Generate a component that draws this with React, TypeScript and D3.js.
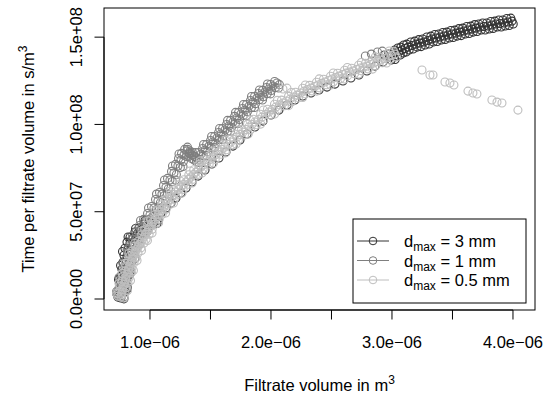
// App.tsx
import React, { useEffect, useRef } from "react";
import * as d3 from "d3";

// volume in 1e-6 m^3, time per volume in 1e8 s/m^6
const dmax3mm: [number, number][] = [
  // band centre
  [0.760, 0.006], [0.769, 0.046], [0.777, 0.086], [0.785, 0.126], [0.793, 0.166],
  [0.802, 0.206], [0.810, 0.246], [0.818, 0.286], [0.835, 0.321], [0.860, 0.349],
  [0.893, 0.372], [0.926, 0.395], [0.967, 0.418], [1.008, 0.441], [1.050, 0.464],
  [1.091, 0.493], [1.132, 0.521], [1.174, 0.550], [1.215, 0.578], [1.256, 0.607],
  [1.298, 0.636], [1.347, 0.670], [1.397, 0.704], [1.455, 0.739], [1.512, 0.773],
  [1.570, 0.808], [1.628, 0.842], [1.686, 0.876], [1.744, 0.911], [1.802, 0.945],
  [1.868, 0.985], [1.934, 1.019], [2.000, 1.054], [2.066, 1.082], [2.132, 1.111],
  [2.198, 1.140], [2.264, 1.163], [2.331, 1.180], [2.397, 1.197], [2.463, 1.214],
  [2.529, 1.231], [2.595, 1.249], [2.661, 1.266], [2.727, 1.283], [2.793, 1.306],
  [2.860, 1.334], [2.926, 1.357], [2.983, 1.386], [3.033, 1.409], [3.083, 1.426],
  [3.132, 1.443], [3.198, 1.460], [3.264, 1.472], [3.331, 1.489], [3.397, 1.501],
  [3.463, 1.512], [3.529, 1.523], [3.595, 1.535], [3.661, 1.546], [3.727, 1.558],
  [3.793, 1.564], [3.860, 1.575], [3.926, 1.581], [3.992, 1.592],
  [3.058, 1.418], [3.107, 1.435], [3.165, 1.452], [3.231, 1.466], [3.298, 1.481],
  [3.364, 1.495], [3.430, 1.507], [3.496, 1.518], [3.562, 1.529], [3.628, 1.541],
  [3.694, 1.552], [3.760, 1.561], [3.826, 1.570], [3.893, 1.578], [3.959, 1.587],
  // upper edge of band
  [0.735, 0.011], [0.744, 0.051], [0.752, 0.091], [0.760, 0.131], [0.768, 0.171],
  [0.777, 0.211], [0.785, 0.251], [0.793, 0.291], [0.810, 0.326], [0.835, 0.354],
  [0.876, 0.384], [0.909, 0.407], [0.950, 0.430], [0.991, 0.453], [1.033, 0.476],
  [2.973, 1.403], [3.023, 1.426], [3.073, 1.443],
  [3.122, 1.460], [3.188, 1.477], [3.254, 1.489], [3.321, 1.506], [3.387, 1.518],
  [3.453, 1.529], [3.519, 1.540], [3.585, 1.552], [3.651, 1.563], [3.717, 1.575],
  [3.783, 1.581], [3.850, 1.592], [3.916, 1.598], [3.982, 1.609],
  [3.048, 1.438], [3.097, 1.455], [3.155, 1.472], [3.221, 1.486], [3.288, 1.501],
  [3.354, 1.515], [3.420, 1.527], [3.486, 1.538], [3.552, 1.549], [3.618, 1.561],
  [3.684, 1.572], [3.750, 1.581], [3.816, 1.590], [3.883, 1.598], [3.949, 1.607],
  // lower edge of band
  [0.785, 0.001], [0.794, 0.041], [0.802, 0.081], [0.810, 0.121], [0.818, 0.161],
  [0.827, 0.201], [0.835, 0.241], [0.843, 0.281], [0.860, 0.316], [0.885, 0.344],
  [0.910, 0.360], [0.943, 0.383], [0.984, 0.406], [1.025, 0.429], [1.067, 0.452],
  [2.993, 1.369], [3.043, 1.392], [3.093, 1.409],
  [3.142, 1.426], [3.208, 1.443], [3.274, 1.455], [3.341, 1.472], [3.407, 1.484],
  [3.473, 1.495], [3.539, 1.506], [3.605, 1.518], [3.671, 1.529], [3.737, 1.541],
  [3.803, 1.547], [3.870, 1.558], [3.936, 1.564], [4.002, 1.575],
  [3.068, 1.398], [3.117, 1.415], [3.175, 1.432], [3.241, 1.446], [3.308, 1.461],
  [3.374, 1.475], [3.440, 1.487], [3.506, 1.498], [3.572, 1.509], [3.638, 1.521],
  [3.704, 1.532], [3.770, 1.541], [3.836, 1.550], [3.903, 1.558], [3.969, 1.567],
  // scatter either side of the band
  [0.724, 0.032], [0.814, 0.060], [0.740, 0.112], [0.830, 0.140], [0.757, 0.192],
  [0.847, 0.220], [0.773, 0.272], [0.868, 0.298], [0.819, 0.355], [0.906, 0.341],
  [0.881, 0.404], [0.976, 0.387], [0.959, 0.450], [1.058, 0.433],
  [2.937, 1.398], [3.026, 1.372],
];

const dmax1mm: [number, number][] = [
  // band centre
  [0.760, 0.017], [0.769, 0.057], [0.777, 0.097], [0.793, 0.137], [0.810, 0.178],
  [0.826, 0.218], [0.843, 0.258], [0.860, 0.298], [0.884, 0.338], [0.909, 0.378],
  [0.934, 0.412], [0.967, 0.447], [1.000, 0.481], [1.033, 0.521], [1.066, 0.561],
  [1.099, 0.601], [1.132, 0.641], [1.165, 0.682], [1.198, 0.722], [1.231, 0.762],
  [1.256, 0.796], [1.281, 0.825], [1.306, 0.848], [1.331, 0.848], [1.347, 0.825],
  [1.364, 0.796], [1.388, 0.808], [1.421, 0.830], [1.455, 0.853], [1.488, 0.876],
  [1.521, 0.899], [1.554, 0.922], [1.587, 0.945], [1.620, 0.968], [1.653, 0.991],
  [1.686, 1.014], [1.719, 1.037], [1.752, 1.060], [1.785, 1.082], [1.818, 1.105],
  [1.851, 1.128], [1.884, 1.151], [1.917, 1.168], [1.950, 1.186], [1.983, 1.203],
  [2.017, 1.220], [2.050, 1.237],
  // upper edge
  [0.735, 0.022], [0.744, 0.062], [0.752, 0.102], [0.768, 0.142], [0.785, 0.183],
  [0.801, 0.223], [0.818, 0.263], [0.835, 0.303], [0.859, 0.343], [0.884, 0.383],
  [0.914, 0.421], [0.947, 0.456], [0.980, 0.490], [1.013, 0.530], [1.046, 0.570],
  [1.079, 0.610], [1.112, 0.650], [1.145, 0.691], [1.178, 0.731], [1.211, 0.771],
  [1.236, 0.805], [1.261, 0.834], [1.286, 0.857], [1.311, 0.857], [1.327, 0.834],
  [1.344, 0.805], [1.368, 0.817], [1.401, 0.839], [1.435, 0.862], [1.468, 0.885],
  [1.501, 0.908], [1.534, 0.931], [1.567, 0.954], [1.600, 0.977], [1.633, 1.000],
  [1.666, 1.023], [1.699, 1.046], [1.732, 1.069], [1.765, 1.091], [1.798, 1.114],
  [1.831, 1.137], [1.864, 1.160], [1.897, 1.177], [1.930, 1.195], [1.963, 1.212],
  [1.997, 1.229], [2.030, 1.246],
  // lower edge
  [0.785, 0.012], [0.794, 0.052], [0.802, 0.092], [0.818, 0.132], [0.835, 0.173],
  [0.851, 0.213], [0.868, 0.253], [0.885, 0.293], [0.909, 0.333], [0.934, 0.373],
  [0.954, 0.403], [0.987, 0.438], [1.020, 0.472], [1.053, 0.512], [1.086, 0.552],
  [1.119, 0.592], [1.152, 0.632], [1.185, 0.673], [1.218, 0.713], [1.251, 0.753],
  [1.276, 0.787], [1.301, 0.816], [1.326, 0.839], [1.351, 0.839], [1.367, 0.816],
  [1.384, 0.787], [1.408, 0.799], [1.441, 0.821], [1.475, 0.844], [1.508, 0.867],
  [1.541, 0.890], [1.574, 0.913], [1.607, 0.936], [1.640, 0.959], [1.673, 0.982],
  [1.706, 1.005], [1.739, 1.028], [1.772, 1.051], [1.805, 1.073], [1.838, 1.096],
  [1.871, 1.119], [1.904, 1.142], [1.937, 1.159], [1.970, 1.177], [2.003, 1.194],
  [2.037, 1.211], [2.070, 1.228],
  // scatter either side of the band
  [0.724, 0.043], [0.814, 0.071], [0.744, 0.123], [0.843, 0.152], [0.777, 0.204],
  [0.876, 0.232], [0.811, 0.284], [0.913, 0.312], [0.856, 0.364], [0.951, 0.375],
  [0.922, 0.450], [1.013, 0.444], [0.988, 0.521], [1.079, 0.521], [1.054, 0.601],
  [1.145, 0.601], [1.120, 0.682], [1.211, 0.682], [1.186, 0.762], [1.273, 0.759],
  [1.240, 0.831], [1.323, 0.817], [1.310, 0.870], [1.368, 0.817], [1.327, 0.831],
  [1.405, 0.782], [1.376, 0.839], [1.467, 0.822], [1.443, 0.885], [1.534, 0.868],
  [1.509, 0.931], [1.600, 0.914], [1.575, 0.977], [1.666, 0.960], [1.641, 1.023],
  [1.732, 1.006], [1.707, 1.069], [1.798, 1.051], [1.773, 1.114], [1.864, 1.097],
  [1.839, 1.160], [1.930, 1.140], [1.905, 1.197], [1.996, 1.175], [1.971, 1.232],
  [2.063, 1.209],
  // few points above the 0.5 mm band near 2.8e-06
  [2.780, 1.392], [2.830, 1.403], [2.880, 1.415], [2.920, 1.420],
];

const dmax05mm: [number, number][] = [
  // band centre
  [0.760, 0.011], [0.769, 0.040], [0.777, 0.069], [0.793, 0.097], [0.802, 0.126],
  [0.818, 0.155], [0.826, 0.183], [0.843, 0.212], [0.860, 0.241], [0.876, 0.269],
  [0.901, 0.298], [0.926, 0.326], [0.950, 0.355], [0.975, 0.384], [1.000, 0.412],
  [1.025, 0.441], [1.058, 0.470], [1.083, 0.498], [1.116, 0.527], [1.149, 0.556],
  [1.182, 0.584], [1.215, 0.613], [1.256, 0.641], [1.298, 0.670], [1.339, 0.699],
  [1.380, 0.727], [1.421, 0.756], [1.471, 0.785], [1.521, 0.813], [1.570, 0.842],
  [1.620, 0.871], [1.669, 0.899], [1.719, 0.928], [1.769, 0.956], [1.818, 0.985],
  [1.868, 1.014], [1.926, 1.042], [1.983, 1.071], [2.041, 1.100], [2.099, 1.123],
  [2.157, 1.145], [2.215, 1.168], [2.273, 1.191], [2.331, 1.208], [2.388, 1.226],
  [2.446, 1.243], [2.504, 1.260], [2.562, 1.277], [2.620, 1.294], [2.678, 1.306],
  [2.736, 1.323], [2.793, 1.334], [2.851, 1.352], [2.909, 1.369], [2.967, 1.386],
  [3.025, 1.403],
  [0.765, 0.026], [0.773, 0.055], [0.785, 0.083], [0.798, 0.112], [0.810, 0.141],
  [0.822, 0.169], [0.835, 0.198], [0.852, 0.227], [0.868, 0.255], [0.889, 0.284],
  [0.914, 0.312], [0.938, 0.341], [0.963, 0.370], [0.988, 0.398], [1.013, 0.427],
  [1.042, 0.456], [1.071, 0.484], [1.100, 0.513], [1.133, 0.542], [1.166, 0.570],
  [1.199, 0.599], [1.236, 0.627], [1.277, 0.656], [1.319, 0.685], [1.360, 0.713],
  [1.401, 0.742], [1.446, 0.771], [1.496, 0.799], [1.546, 0.828], [1.595, 0.857],
  [1.645, 0.885], [1.694, 0.914], [1.744, 0.942], [1.794, 0.971], [1.843, 1.000],
  [1.897, 1.028], [1.955, 1.057], [2.012, 1.086], [2.070, 1.112], [2.128, 1.134],
  [2.186, 1.157], [2.244, 1.180], [2.302, 1.200], [2.360, 1.217], [2.417, 1.235],
  [2.475, 1.252], [2.533, 1.269], [2.591, 1.286], [2.649, 1.300], [2.707, 1.315],
  [2.765, 1.329], [2.822, 1.343], [2.880, 1.361], [2.938, 1.378], [2.996, 1.395],
  // upper edge
  [0.735, 0.016], [0.744, 0.045], [0.752, 0.074], [0.768, 0.102], [0.777, 0.131],
  [0.793, 0.160], [0.801, 0.188], [0.818, 0.217], [0.835, 0.246], [0.851, 0.274],
  [0.876, 0.303], [0.901, 0.331], [0.932, 0.368], [0.957, 0.397], [0.982, 0.425],
  [1.007, 0.454], [1.040, 0.483], [1.065, 0.511], [1.098, 0.540], [1.131, 0.569],
  [1.164, 0.597], [1.197, 0.626], [1.238, 0.654], [1.280, 0.683], [1.321, 0.712],
  [1.362, 0.740], [1.403, 0.769], [1.453, 0.798], [1.503, 0.826], [1.552, 0.855],
  [1.608, 0.887], [1.657, 0.915], [1.707, 0.944], [1.757, 0.972], [1.806, 1.001],
  [1.856, 1.030], [1.914, 1.058], [1.971, 1.087], [2.029, 1.116], [2.087, 1.139],
  [2.145, 1.161], [2.203, 1.184], [2.261, 1.207], [2.319, 1.224], [2.376, 1.242],
  [2.434, 1.259], [2.492, 1.276], [2.550, 1.293], [2.608, 1.310], [2.666, 1.322],
  [2.724, 1.339], [2.781, 1.350], [2.839, 1.368], [2.897, 1.385], [2.955, 1.402],
  [3.013, 1.419],
  // lower edge
  [0.785, 0.006], [0.794, 0.035], [0.802, 0.064], [0.818, 0.092], [0.827, 0.121],
  [0.843, 0.150], [0.851, 0.178], [0.868, 0.207], [0.885, 0.236], [0.901, 0.264],
  [0.926, 0.293], [0.951, 0.321], [0.968, 0.342], [0.993, 0.371], [1.018, 0.399],
  [1.043, 0.428], [1.076, 0.457], [1.101, 0.485], [1.134, 0.514], [1.167, 0.543],
  [1.200, 0.571], [1.233, 0.600], [1.274, 0.628], [1.316, 0.657], [1.357, 0.686],
  [1.398, 0.714], [1.439, 0.743], [1.489, 0.772], [1.539, 0.800], [1.588, 0.829],
  [1.632, 0.855], [1.681, 0.883], [1.731, 0.912], [1.781, 0.940], [1.830, 0.969],
  [1.880, 0.998], [1.938, 1.026], [1.995, 1.055], [2.053, 1.084], [2.111, 1.107],
  [2.169, 1.129], [2.227, 1.152], [2.285, 1.175], [2.343, 1.192], [2.400, 1.210],
  [2.458, 1.227], [2.516, 1.244], [2.574, 1.261], [2.632, 1.278], [2.690, 1.290],
  [2.748, 1.307], [2.805, 1.318], [2.863, 1.336], [2.921, 1.353], [2.979, 1.370],
  [3.037, 1.387],
  // scatter either side of the band
  [0.724, 0.032], [0.814, 0.049], [0.744, 0.089], [0.839, 0.106], [0.769, 0.147],
  [0.863, 0.163], [0.794, 0.204], [0.893, 0.221], [0.827, 0.261], [0.930, 0.278],
  [0.873, 0.318], [0.979, 0.335], [0.934, 0.390], [1.017, 0.378], [0.984, 0.447],
  [1.071, 0.436], [1.042, 0.504], [1.129, 0.493], [1.104, 0.562], [1.195, 0.550],
  [1.170, 0.619], [1.265, 0.607], [1.248, 0.676], [1.348, 0.665], [1.331, 0.733],
  [1.430, 0.722], [1.417, 0.791], [1.525, 0.779], [1.517, 0.848], [1.624, 0.837],
  [1.627, 0.911], [1.712, 0.888], [1.726, 0.968], [1.812, 0.945], [1.825, 1.026],
  [1.915, 1.002], [1.937, 1.083], [2.030, 1.060], [2.052, 1.138], [2.146, 1.108],
  [2.168, 1.183], [2.262, 1.154], [2.284, 1.226], [2.378, 1.191], [2.399, 1.261],
  [2.493, 1.226], [2.515, 1.295], [2.609, 1.260], [2.631, 1.326], [2.725, 1.289],
  [2.747, 1.355], [2.840, 1.317], [2.862, 1.387], [2.956, 1.352], [2.978, 1.421],
  // isolated points
  [2.099, 1.203], [2.132, 1.208],
  [3.248, 1.312], [3.314, 1.283], [3.339, 1.283], [3.438, 1.243], [3.479, 1.237],
  [3.512, 1.226], [3.628, 1.191], [3.669, 1.180], [3.702, 1.174], [3.826, 1.140],
  [3.868, 1.128], [3.909, 1.123], [4.041, 1.082],
];

const seriesNames = ["3 mm", "1 mm", "0.5 mm"];
const seriesColors = ["#333333", "#7f7f7f", "#bebebe"];

const xTicks = [1.0, 1.5, 2.0, 2.5, 3.0, 3.5, 4.0];
const xLabels = ["1.0e\u221206", "", "2.0e\u221206", "", "3.0e\u221206", "", "4.0e\u221206"];
const yTicks = [0, 0.5, 1.0, 1.5];
const yLabels = ["0.0e+00", "5.0e+07", "1.0e+08", "1.5e+08"];

const W = 557;
const H = 394;
const FONT = "'Liberation Sans', Arial, Helvetica, sans-serif";

export default function App() {
  const ref = useRef<SVGSVGElement>(null);

  useEffect(() => {
    const svg = d3.select(ref.current);
    svg.selectAll("*").remove();

    const plot = { left: 104, right: 535, top: 8, bottom: 310 };
    const x = d3.scaleLinear().domain([0.62, 4.182]).range([plot.left, plot.right]);
    const y = d3.scaleLinear().domain([-0.063, 1.667]).range([plot.bottom, plot.top]);

    const g = svg.append("g").style("font-family", FONT).style("font-size", "16.5px");

    // points, drawn in order 3 mm, 1 mm, 0.5 mm
    [dmax3mm, dmax1mm, dmax05mm].forEach((data, i) => {
      g.append("g")
        .selectAll("circle")
        .data(data)
        .enter()
        .append("circle")
        .attr("cx", d => x(d[0]))
        .attr("cy", d => y(d[1]))
        .attr("r", 4)
        .attr("fill", "none")
        .attr("stroke", seriesColors[i])
        .attr("stroke-width", 1.1);
    });

    // box
    g.append("rect")
      .attr("x", plot.left)
      .attr("y", plot.top)
      .attr("width", plot.right - plot.left)
      .attr("height", plot.bottom - plot.top)
      .attr("fill", "none")
      .attr("stroke", "#000");

    // x axis
    const xAxis = g.append("g");
    xAxis.append("line")
      .attr("x1", x(xTicks[0])).attr("x2", x(xTicks[xTicks.length - 1]))
      .attr("y1", plot.bottom).attr("y2", plot.bottom)
      .attr("stroke", "#000");
    xTicks.forEach((t, i) => {
      xAxis.append("line")
        .attr("x1", x(t)).attr("x2", x(t))
        .attr("y1", plot.bottom).attr("y2", plot.bottom + 9.5)
        .attr("stroke", "#000");
      if (xLabels[i]) {
        xAxis.append("text")
          .attr("x", x(t)).attr("y", 348)
          .attr("text-anchor", "middle")
          .text(xLabels[i]);
      }
    });

    // y axis
    const yAxis = g.append("g");
    yAxis.append("line")
      .attr("x1", plot.left).attr("x2", plot.left)
      .attr("y1", y(yTicks[0])).attr("y2", y(yTicks[yTicks.length - 1]))
      .attr("stroke", "#000");
    yTicks.forEach((t, i) => {
      yAxis.append("line")
        .attr("x1", plot.left - 9.5).attr("x2", plot.left)
        .attr("y1", y(t)).attr("y2", y(t))
        .attr("stroke", "#000");
      yAxis.append("text")
        .attr("transform", `translate(82, ${y(t)}) rotate(-90)`)
        .attr("text-anchor", "middle")
        .text(yLabels[i]);
    });

    // axis titles
    const xt = g.append("text")
      .attr("x", (plot.left + plot.right) / 2)
      .attr("y", 391)
      .attr("text-anchor", "middle");
    xt.append("tspan").text("Filtrate volume in m");
    xt.append("tspan").attr("dy", -7).style("font-size", "12px").text("3");

    const yt = g.append("text")
      .attr("transform", `translate(34, ${(plot.top + plot.bottom) / 2}) rotate(-90)`)
      .attr("text-anchor", "middle");
    yt.append("tspan").text("Time per filtrate volume in s/m");
    yt.append("tspan").attr("dy", -7).style("font-size", "12px").text("3");

    // legend
    const lg = g.append("g");
    lg.append("rect")
      .attr("x", 353).attr("y", 219)
      .attr("width", 173).attr("height", 84)
      .attr("fill", "#fff")
      .attr("stroke", "#000");
    seriesNames.forEach((name, i) => {
      const ly = 241 + i * 19.5;
      lg.append("line")
        .attr("x1", 357).attr("x2", 389)
        .attr("y1", ly).attr("y2", ly)
        .attr("stroke", seriesColors[i]);
      lg.append("circle")
        .attr("cx", 373).attr("cy", ly).attr("r", 3.8)
        .attr("fill", "none")
        .attr("stroke", seriesColors[i]);
      const t = lg.append("text").attr("x", 404).attr("y", ly + 6);
      t.append("tspan").text("d");
      t.append("tspan").attr("dy", 4).style("font-size", "12px").text("max");
      t.append("tspan").attr("dy", -4).text(` = ${name}`);
    });
  }, []);

  return (
    <div style={{ position: "absolute", left: 0, top: 0 }}>
      <svg ref={ref} width={W} height={H} style={{ display: "block", background: "#fff" }} />
    </div>
  );
}
